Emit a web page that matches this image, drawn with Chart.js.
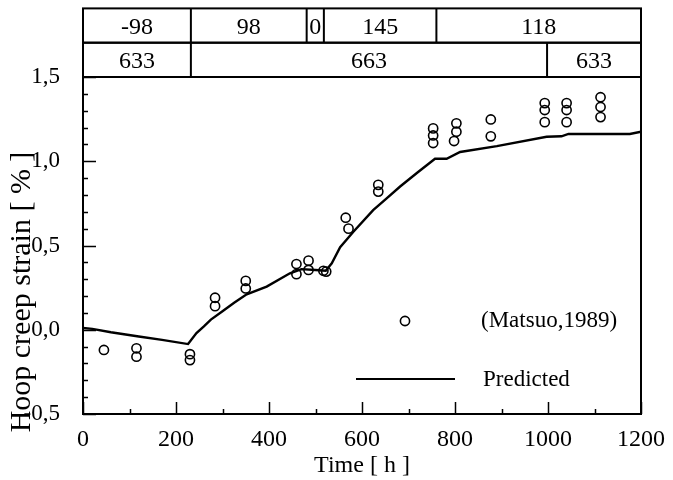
<!DOCTYPE html>
<html>
<head>
<meta charset="utf-8">
<script src="https://cdn.jsdelivr.net/npm/chart.js@4.4.1/dist/chart.umd.min.js"></script>
<style>
  html, body { margin: 0; padding: 0; background: #fff; }
  canvas { display: block; }
</style>
</head>
<body>
<canvas id="creep" width="673" height="480"></canvas>
<script>
// 計算曲線 (Predicted)：時間 [h] 與環向潛變應變 [%]
const predTime = [0, 20, 60, 120, 170, 226, 244, 260, 275, 300, 325, 352, 395, 445, 470, 500, 522,
  535, 553, 581, 624, 653, 682, 720, 757, 782, 811, 890, 997, 1029, 1044, 1176, 1200];
const predStrain = [0.01, 0.005, -0.015, -0.04, -0.06, -0.085, -0.02, 0.02, 0.06, 0.11, 0.16, 0.21, 0.256, 0.335, 0.36, 0.355, 0.35,
  0.394, 0.49, 0.58, 0.71, 0.78, 0.85, 0.935, 1.015, 1.015, 1.055, 1.09, 1.145, 1.148, 1.162, 1.162, 1.175];

// 實驗點 (Matsuo,1989)
const expTime = [45, 115, 115, 230, 230, 284, 284, 350, 350, 459, 459, 485, 485, 517, 523,
  565, 571, 635, 635, 753, 753, 753, 803, 803, 798, 877, 877,
  993, 993, 993, 1040, 1040, 1040, 1113, 1113, 1113];
const expStrain = [-0.12, -0.11, -0.16, -0.145, -0.18, 0.19, 0.14, 0.29, 0.245, 0.39, 0.33, 0.41, 0.355, 0.35, 0.345,
  0.665, 0.6, 0.86, 0.82, 1.195, 1.153, 1.108, 1.225, 1.175, 1.12, 1.248, 1.148,
  1.345, 1.304, 1.232, 1.345, 1.304, 1.232, 1.38, 1.322, 1.262];

// 上方表格：應力列與溫度列（以時間分段）
const stressEdges = [0, 232, 481, 518, 760, 1200];
const stressLabels = ["-98", "98", "0", "145", "118"];
const tempEdges = [0, 232, 998, 1200];
const tempLabels = ["633", "663", "633"];

// 刻度標籤
const xMajor = [0, 200, 400, 600, 800, 1000, 1200];
const xTickLabels = ["0", "200", "400", "600", "800", "1000", "1200"];
const yMajor = [-0.5, 0, 0.5, 1.0, 1.5];
const yTickLabels = ["-0,5", "0,0", "0,5", "1,0", "1,5"];

const FONT = "'Liberation Serif', 'Times New Roman', serif";

function majorIndex(v, list) {
  return list.findIndex((m) => Math.abs(m - v) < 1e-6);
}

const framePlugin = {
  id: "frame",
  afterDraw(chart) {
    const { ctx, chartArea: a, scales: { x, y } } = chart;
    ctx.save();
    ctx.strokeStyle = "#000";
    ctx.fillStyle = "#000";

    // 刻度線朝內
    ctx.lineWidth = 1.5;
    ctx.beginPath();
    y.ticks.forEach((t) => {
      const py = Math.round(y.getPixelForValue(t.value)) + 0.5;
      const len = majorIndex(t.value, yMajor) >= 0 ? 13 : 5;
      ctx.moveTo(a.left, py);
      ctx.lineTo(a.left + len, py);
    });
    x.ticks.forEach((t) => {
      const px = Math.round(x.getPixelForValue(t.value)) + 0.5;
      const len = majorIndex(t.value, xMajor) >= 0 ? 12 : 5;
      ctx.moveTo(px, a.bottom);
      ctx.lineTo(px, a.bottom - len);
    });
    ctx.stroke();

    // 外框
    ctx.lineWidth = 2;
    ctx.strokeRect(a.left, a.top, a.right - a.left, a.bottom - a.top);

    // 表格
    const rowH = 34.3;
    ctx.font = "24px " + FONT;
    ctx.textAlign = "center";
    ctx.textBaseline = "middle";
    const drawRow = (top, edges, labels) => {
      ctx.strokeRect(a.left, top, a.right - a.left, rowH);
      for (let i = 0; i < labels.length; i++) {
        const x0 = x.getPixelForValue(edges[i]);
        const x1 = x.getPixelForValue(edges[i + 1]);
        if (i > 0) {
          ctx.beginPath();
          ctx.moveTo(x0, top);
          ctx.lineTo(x0, top + rowH);
          ctx.stroke();
        }
        ctx.fillText(labels[i], (x0 + x1) / 2, top + rowH / 2 + 2);
      }
    };
    drawRow(a.top - 2 * rowH, stressEdges, stressLabels);
    drawRow(a.top - rowH, tempEdges, tempLabels);

    // Y 軸標題（比繪圖區略往下）
    ctx.save();
    ctx.font = "30px " + FONT;
    ctx.textBaseline = "alphabetic";
    ctx.translate(30, 292);
    ctx.rotate(-Math.PI / 2);
    ctx.fillText("Hoop creep strain [ % ]", 0, 0);
    ctx.restore();

    // 圖例
    ctx.font = "23px " + FONT;
    ctx.textAlign = "left";
    ctx.lineWidth = 1.6;
    ctx.beginPath();
    ctx.arc(a.left + 322, a.top + 244, 4.6, 0, Math.PI * 2);
    ctx.stroke();
    ctx.fillText("(Matsuo,1989)", a.left + 398, a.top + 244);
    ctx.lineWidth = 2.2;
    ctx.beginPath();
    ctx.moveTo(a.left + 273, a.top + 302);
    ctx.lineTo(a.left + 372, a.top + 302);
    ctx.stroke();
    ctx.fillText("Predicted", a.left + 400, a.top + 303);
    ctx.restore();
  },
};

new Chart(document.getElementById("creep").getContext("2d"), {
  type: "scatter",
  data: {
    datasets: [
      {
        label: "(Matsuo,1989)",
        data: expTime.map((t, i) => ({ x: t, y: expStrain[i] })),
        pointStyle: "circle",
        pointRadius: 4.6,
        pointBorderWidth: 1.6,
        pointBorderColor: "#000",
        pointBackgroundColor: "rgba(0,0,0,0)",
        showLine: false,
      },
      {
        label: "Predicted",
        data: predTime.map((t, i) => ({ x: t, y: predStrain[i] })),
        showLine: true,
        borderColor: "#000",
        borderWidth: 2.4,
        pointRadius: 0,
        tension: 0,
      },
    ],
  },
  options: {
    responsive: false,
    animation: false,
    devicePixelRatio: 1,
    layout: { padding: { top: 77, right: 32, left: 0, bottom: 0 } },
    plugins: { legend: { display: false }, tooltip: { enabled: false } },
    scales: {
      x: {
        type: "linear",
        min: 0,
        max: 1200,
        afterFit: (s) => { s.height = 66; },
        grid: { display: false },
        border: { display: false },
        ticks: {
          stepSize: 100,
          autoSkip: false,
          maxRotation: 0,
          padding: 3,
          color: "#000",
          font: { family: FONT, size: 24 },
          callback: (v) => {
            const i = majorIndex(v, xMajor);
            return i >= 0 ? xTickLabels[i] : "";
          },
        },
        title: {
          display: true,
          text: "Time [ h ]",
          color: "#000",
          font: { family: FONT, size: 24 },
          padding: { top: 0, bottom: 0 },
        },
      },
      y: {
        min: -0.5,
        max: 1.5,
        afterFit: (s) => { s.width = 83; },
        grid: { display: false },
        border: { display: false },
        ticks: {
          stepSize: 0.1,
          autoSkip: false,
          padding: 15,
          color: "#000",
          font: { family: FONT, size: 23 },
          callback: (v) => {
            const i = majorIndex(v, yMajor);
            return i >= 0 ? yTickLabels[i] : "";
          },
        },
      },
    },
  },
  plugins: [framePlugin],
});
</script>
</body>
</html>
